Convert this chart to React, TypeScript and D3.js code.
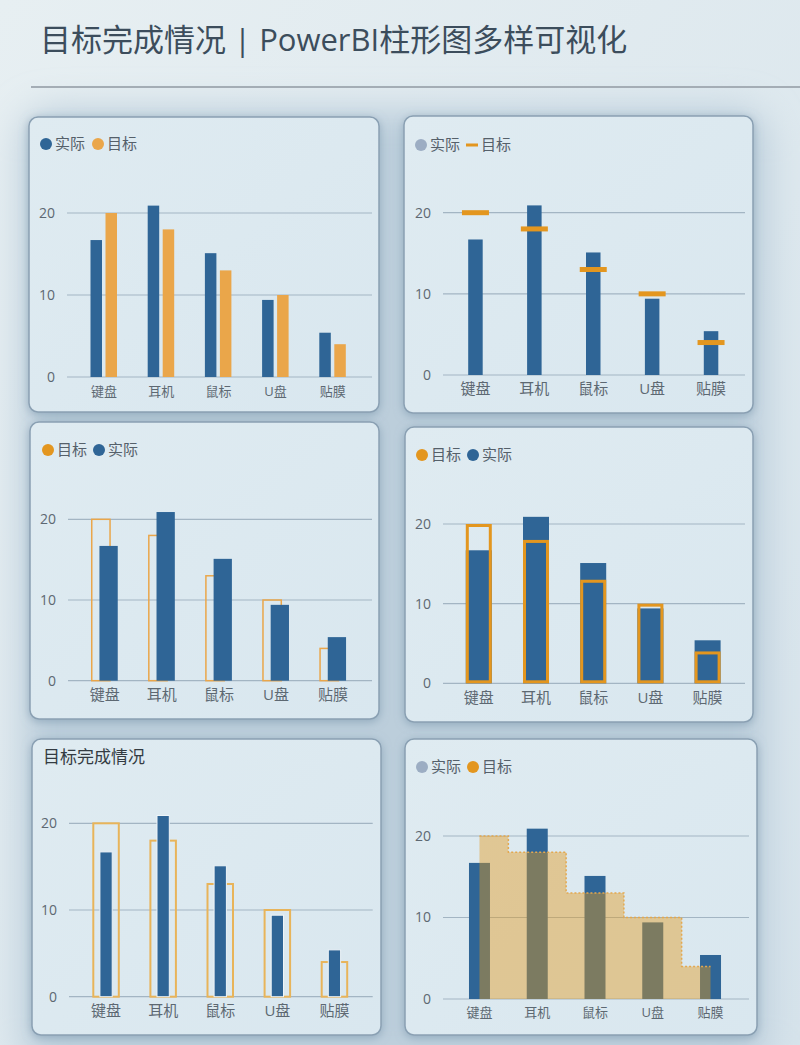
import React from "react";
import * as d3 from "d3";

const categories = ["键盘", "耳机", "鼠标", "U盘", "贴膜"];
const actualValues = [16.7, 20.9, 15.1, 9.4, 5.4];
const targetValues = [20, 18, 13, 10, 4];
const yTicks = [0, 10, 20];
const pageTitle = "目标完成情况 | PowerBI柱形图多样可视化";
const panelTitle = "目标完成情况";
const labelActual = "实际";
const labelTarget = "目标";

const FONT = "'Segoe UI', 'Open Sans', 'Noto Sans CJK SC', sans-serif";
const BLUE = "#2f6596";
const ORANGE = "#eaa64a";
const ORANGE2 = "#e3961f";
const GRAYDOT = "#9cadc3";
const GRID = "#a3b5c3";
const TICK = "#5d6872";

type Spec = {
  box: { x: number; y: number; w: number; h: number };
  gx1: number; gx2: number; y0: number; y20: number;
  r0: number; r1: number;
  tickFont: number; catFont: number; labelY: number;
  legendY: number;
};

function Frame({ s, children }: { s: Spec; children: React.ReactNode }) {
  const y = d3.scaleLinear().domain([0, 20]).range([s.y0, s.y20]);
  return (
    <g>
      <rect x={s.box.x} y={s.box.y} width={s.box.w} height={s.box.h} rx={9}
        fill="url(#panelFill)" stroke="#8aa0b3" strokeWidth={1.5} filter="url(#shadow)" />
      {yTicks.map((t) => (
        <g key={t}>
          <line x1={s.gx1} x2={s.gx2} y1={y(t)} y2={y(t)} stroke={GRID} strokeWidth={1.2} />
          <text x={s.gx1 - 12} y={y(t)} dy="0.35em" textAnchor="end" fontSize={s.tickFont}
            fill={TICK} fontFamily={FONT}>{t}</text>
        </g>
      ))}
      {children}
    </g>
  );
}

function CatLabels({ s, x }: { s: Spec; x: d3.ScaleBand<string> }) {
  return (
    <g>
      {categories.map((c) => (
        <text key={c} x={(x(c) as number) + x.bandwidth() / 2} y={s.labelY} dy="0.35em"
          textAnchor="middle" fontSize={s.catFont} fill={TICK} fontFamily={FONT}>{c}</text>
      ))}
    </g>
  );
}

type LegendItem = { label: string; color: string; kind: "dot" | "dash" };
function Legend({ items, y, xs }: { items: LegendItem[]; y: number; xs: number[] }) {
  return (
    <g>
      {items.map((it, i) => (
        <g key={it.label}>
          {it.kind === "dot" ? (
            <circle cx={xs[i]} cy={y} r={6} fill={it.color} />
          ) : (
            <rect x={xs[i] - 6} y={y - 1.5} width={12} height={3} fill={it.color} />
          )}
          <text x={xs[i] + 9} y={y} dy="0.35em" fontSize={15} fill="#55606a" fontFamily={FONT}>{it.label}</text>
        </g>
      ))}
    </g>
  );
}

const s1: Spec = { box: { x: 29, y: 117, w: 350, h: 295 }, gx1: 67, gx2: 372, y0: 377, y20: 213,
  r0: 75.4, r1: 361.4, tickFont: 14, catFont: 13, labelY: 391, legendY: 144 };
const s2: Spec = { box: { x: 404, y: 116, w: 349, h: 297 }, gx1: 443, gx2: 745, y0: 375, y20: 212.7,
  r0: 446, r1: 740.5, tickFont: 14, catFont: 15, labelY: 389, legendY: 145 };
const s3: Spec = { box: { x: 30, y: 422, w: 349, h: 297 }, gx1: 68, gx2: 372, y0: 680.7, y20: 519.3,
  r0: 76.2, r1: 361.6, tickFont: 14, catFont: 15, labelY: 695, legendY: 450 };
const s4: Spec = { box: { x: 405, y: 427, w: 348, h: 295 }, gx1: 443, gx2: 745, y0: 683.3, y20: 524,
  r0: 450.2, r1: 736.2, tickFont: 14, catFont: 15, labelY: 698, legendY: 455 };
const s5: Spec = { box: { x: 32, y: 739, w: 349, h: 296 }, gx1: 69, gx2: 372.7, y0: 996.7, y20: 823.3,
  r0: 77.5, r1: 363, tickFont: 14, catFont: 15, labelY: 1011, legendY: 757 };
const s6: Spec = { box: { x: 405, y: 739, w: 352, h: 296 }, gx1: 443, gx2: 749, y0: 999, y20: 836,
  r0: 450.6, r1: 739.4, tickFont: 14, catFont: 13, labelY: 1012, legendY: 767 };

function scales(s: Spec) {
  const x = d3.scaleBand<string>().domain(categories).range([s.r0, s.r1]);
  const y = d3.scaleLinear().domain([0, 20]).range([s.y0, s.y20]);
  return { x, y, c: (cat: string) => (x(cat) as number) + x.bandwidth() / 2 };
}

function Panel1() {
  const s = s1; const { x, y, c } = scales(s);
  const w = 11.5;
  return (
    <Frame s={s}>
      {categories.map((cat, i) => (
        <g key={cat}>
          <rect x={c(cat) - 13.5} y={y(actualValues[i])} width={w} height={y(0) - y(actualValues[i])} fill={BLUE} />
          <rect x={c(cat) + 1.5} y={y(targetValues[i])} width={w} height={y(0) - y(targetValues[i])} fill={ORANGE} />
        </g>
      ))}
      <CatLabels s={s} x={x} />
      <Legend y={s.legendY} xs={[46, 98]} items={[
        { label: labelActual, color: BLUE, kind: "dot" },
        { label: labelTarget, color: ORANGE, kind: "dot" }]} />
    </Frame>
  );
}

function Panel2() {
  const s = s2; const { x, y, c } = scales(s);
  const w = 14.5, mw = 27;
  return (
    <Frame s={s}>
      {categories.map((cat, i) => (
        <g key={cat}>
          <rect x={c(cat) - w / 2} y={y(actualValues[i])} width={w} height={y(0) - y(actualValues[i])} fill={BLUE} />
          <rect x={c(cat) - mw / 2} y={y(targetValues[i]) - 2.5} width={mw} height={5} fill={ORANGE2} />
        </g>
      ))}
      <CatLabels s={s} x={x} />
      <Legend y={s.legendY} xs={[421, 472]} items={[
        { label: labelActual, color: GRAYDOT, kind: "dot" },
        { label: labelTarget, color: ORANGE2, kind: "dash" }]} />
    </Frame>
  );
}

function Panel3() {
  const s = s3; const { x, y, c } = scales(s);
  const w = 18.3;
  return (
    <Frame s={s}>
      {categories.map((cat, i) => (
        <g key={cat}>
          <rect x={c(cat) - 13} y={y(targetValues[i])} width={w} height={y(0) - y(targetValues[i])}
            fill="none" stroke={ORANGE} strokeWidth={1.5} />
          <rect x={c(cat) - 5.3} y={y(actualValues[i])} width={w} height={y(0) - y(actualValues[i])} fill={BLUE} />
        </g>
      ))}
      <CatLabels s={s} x={x} />
      <Legend y={s.legendY} xs={[48, 99]} items={[
        { label: labelTarget, color: ORANGE2, kind: "dot" },
        { label: labelActual, color: BLUE, kind: "dot" }]} />
    </Frame>
  );
}

function Panel4() {
  const s = s4; const { x, y, c } = scales(s);
  const w = 26, sw = 3;
  return (
    <Frame s={s}>
      {categories.map((cat, i) => (
        <g key={cat}>
          <rect x={c(cat) - w / 2} y={y(actualValues[i])} width={w} height={y(0) - y(actualValues[i])} fill={BLUE} />
          <rect x={c(cat) - w / 2 + sw / 2} y={y(targetValues[i]) + sw / 2} width={w - sw}
            height={y(0) - y(targetValues[i]) - sw} fill="none" stroke={ORANGE2} strokeWidth={sw} />
        </g>
      ))}
      <CatLabels s={s} x={x} />
      <Legend y={s.legendY} xs={[422, 473]} items={[
        { label: labelTarget, color: ORANGE2, kind: "dot" },
        { label: labelActual, color: BLUE, kind: "dot" }]} />
    </Frame>
  );
}

function Panel5() {
  const s = s5; const { x, y, c } = scales(s);
  const tw = 25.5, aw = 12.3;
  return (
    <Frame s={s}>
      <text x={43} y={s.legendY} dy="0.35em" fontSize={17} fill="#333b42" fontFamily={FONT}>{panelTitle}</text>
      {categories.map((cat, i) => (
        <g key={cat}>
          <rect x={c(cat) - tw / 2} y={y(targetValues[i])} width={tw} height={y(0) - y(targetValues[i])}
            fill="none" stroke="#e8b45a" strokeWidth={2} />
          <rect x={c(cat) - aw / 2} y={y(actualValues[i])} width={aw} height={y(0) - y(actualValues[i])}
            fill={BLUE} stroke="#eef4f8" strokeWidth={1} />
        </g>
      ))}
      <CatLabels s={s} x={x} />
    </Frame>
  );
}

function Panel6() {
  const s = s6; const { x, y, c } = scales(s);
  const w = 21;
  const pts = categories.map((cat, i) => ({ cx: c(cat), v: targetValues[i] }));
  const area = d3.area<{ cx: number; v: number }>().x((d) => d.cx).y0(y(0)).y1((d) => y(d.v)).curve(d3.curveStep);
  const line = d3.line<{ cx: number; v: number }>().x((d) => d.cx).y((d) => y(d.v)).curve(d3.curveStep);
  return (
    <Frame s={s}>
      {categories.map((cat, i) => (
        <rect key={cat} x={c(cat) - w / 2} y={y(actualValues[i])} width={w} height={y(0) - y(actualValues[i])} fill={BLUE} />
      ))}
      <path d={area(pts) as string} fill="#e4981c" fillOpacity={0.43} />
      <path d={line(pts) as string} fill="none" stroke="#e3a850" strokeWidth={1.5} strokeDasharray="2 2" />
      <CatLabels s={s} x={x} />
      <Legend y={s.legendY} xs={[422, 473]} items={[
        { label: labelActual, color: GRAYDOT, kind: "dot" },
        { label: labelTarget, color: ORANGE2, kind: "dot" }]} />
    </Frame>
  );
}

export default function App() {
  return (
    <svg width={800} height={1045} style={{ position: "absolute", left: 0, top: 0 }}>
      <defs>
        <linearGradient id="pageBg" x1="0" y1="0" x2="1" y2="1">
          <stop offset="0" stopColor="#e7eff2" />
          <stop offset="1" stopColor="#d6e3eb" />
        </linearGradient>
        <linearGradient id="panelFill" x1="0" y1="0" x2="1" y2="1">
          <stop offset="0" stopColor="#dfebf1" />
          <stop offset="1" stopColor="#d9e7ef" />
        </linearGradient>
        <filter id="blurBig" x="-20%" y="-20%" width="140%" height="140%">
          <feGaussianBlur stdDeviation="18" />
        </filter>
        <filter id="shadow" x="-10%" y="-10%" width="120%" height="120%">
          <feDropShadow dx="0" dy="2" stdDeviation="5" floodColor="#6d8aa3" floodOpacity="0.55" />
        </filter>
      </defs>
      <rect width={800} height={1045} fill="url(#pageBg)" />
      <rect x={22} y={110} width={745} height={960} rx={30} fill="#bccedb" filter="url(#blurBig)" />
      <text x={40} y={51} fontSize={31} fill="#3c4d5c" fontFamily={FONT}>{pageTitle}</text>
      <line x1={31} x2={800} y1={87} y2={87} stroke="#a4adb5" strokeWidth={2} />
      <Panel1 />
      <Panel2 />
      <Panel3 />
      <Panel4 />
      <Panel5 />
      <Panel6 />
    </svg>
  );
}
